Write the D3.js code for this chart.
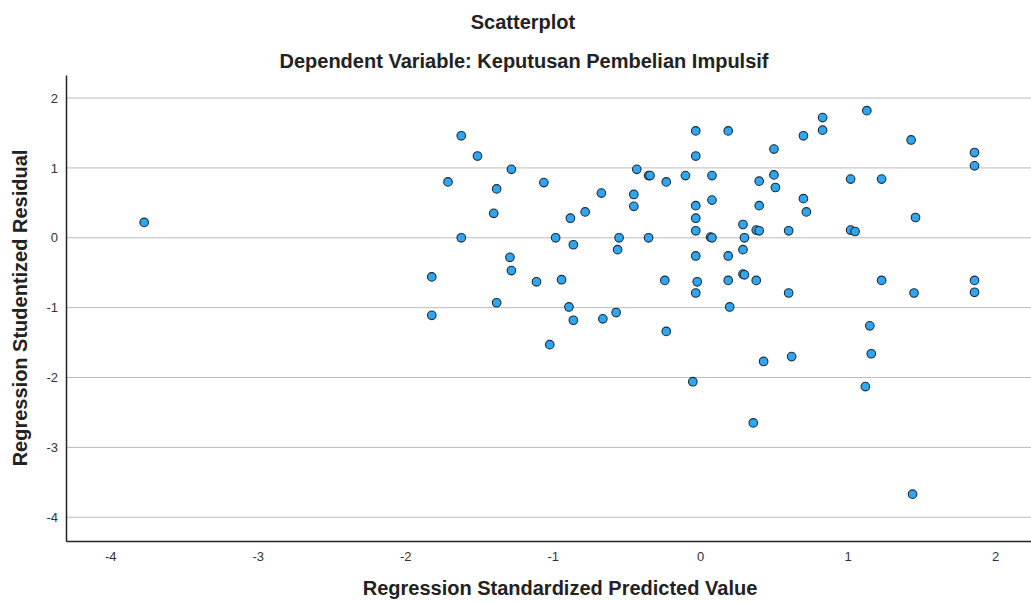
<!DOCTYPE html>
<html>
<head>
<meta charset="utf-8">
<script src="https://cdn.jsdelivr.net/npm/d3@7"></script>
<style>
  body { margin: 0; background: #fff; }
  text { font-family: "Liberation Sans", Arial, sans-serif; }
</style>
</head>
<body>
<script>
var w = 1031;
var h = 603;

// Regression Standardized Predicted Value
var predicted = [
    -3.77, -1.62, -1.51, -1.28, -1.71, -1.38, -1.06, -1.40, -0.88, -1.62,
    -0.98, -0.86, -1.29, -1.28, -1.82, -1.11, -0.94, -1.38, -0.89, -1.82,
    -0.86, -1.02, -0.03, 0.19, -0.03, -0.43, -0.35, -0.34, -0.23, -0.10,
    0.08, 0.40, 0.50, 0.50, -0.67, -0.45, -0.45, -0.78, -0.03, 0.08,
    0.40, -0.03, -0.03, 0.29, 0.38, 0.40, -0.55, -0.35, 0.07, 0.08,
    0.30, -0.56, -0.03, 0.19, 0.29, 0.29, 0.30, -0.24, -0.02, 0.19,
    0.38, -0.03, 0.20, -0.66, -0.57, -0.23, 0.43, -0.05, 0.36, 1.13,
    0.83, 0.83, 0.70, 1.43, 1.86, 1.86, 0.51, 1.02, 1.23, 0.70,
    0.72, 1.46, 0.60, 1.02, 1.05, 1.23, 0.60, 1.45, 1.86, 1.86,
    1.15, 1.16, 0.62, 1.12, 1.44
];

// Regression Studentized Residual
var residual = [
    0.22, 1.46, 1.17, 0.98, 0.80, 0.70, 0.79, 0.35, 0.28, 0.00,
    0.00, -0.10, -0.28, -0.47, -0.56, -0.63, -0.60, -0.93, -0.99, -1.11,
    -1.18, -1.53, 1.53, 1.53, 1.17, 0.98, 0.89, 0.89, 0.80, 0.89,
    0.89, 0.81, 0.90, 1.27, 0.64, 0.62, 0.45, 0.37, 0.46, 0.54,
    0.46, 0.28, 0.10, 0.19, 0.11, 0.10, 0.00, 0.00, 0.01, 0.00,
    0.00, -0.17, -0.26, -0.26, -0.17, -0.52, -0.53, -0.61, -0.63, -0.61,
    -0.61, -0.79, -0.99, -1.16, -1.07, -1.34, -1.77, -2.06, -2.65, 1.82,
    1.72, 1.54, 1.46, 1.40, 1.22, 1.03, 0.72, 0.84, 0.84, 0.56,
    0.37, 0.29, 0.10, 0.11, 0.09, -0.61, -0.79, -0.79, -0.61, -0.78,
    -1.26, -1.66, -1.70, -2.13, -3.67
];

var xTicks = [-4, -3, -2, -1, 0, 1, 2];
var yTicks = [-4, -3, -2, -1, 0, 1, 2];

var plotLeft = 66, plotRight = 1031, plotTop = 75, plotBottom = 541;

var svg = d3.select("body").append("svg").attr("width", w).attr("height", h);

var xScale = d3.scaleLinear()
    .domain([-4.3, 2.243])
    .range([plotLeft, plotRight]);

var yScale = d3.scaleLinear()
    .domain([-4.34, 2.33])
    .range([plotBottom, plotTop]);

// horizontal gridlines
svg.selectAll("line.grid")
    .data(yTicks).enter()
    .append("line")
    .attr("class", "grid")
    .attr("x1", plotLeft)
    .attr("x2", plotRight)
    .attr("y1", d => yScale(d))
    .attr("y2", d => yScale(d))
    .attr("stroke", "#bcbcbc")
    .attr("stroke-width", 1);

var xAxis = d3.axisBottom(xScale)
    .tickValues(xTicks)
    .tickSize(0)
    .tickPadding(11)
    .tickFormat(d => String(d));

var yAxis = d3.axisLeft(yScale)
    .tickValues(yTicks)
    .tickSize(0)
    .tickPadding(8)
    .tickFormat(d => String(d));

var gx = svg.append("g")
    .attr("transform", "translate(0," + plotBottom + ")")
    .call(xAxis);

var gy = svg.append("g")
    .attr("transform", "translate(" + plotLeft + ",0)")
    .call(yAxis);

[gx, gy].forEach(g => {
    g.select(".domain").attr("stroke", "#222").attr("stroke-width", 1.5);
    g.selectAll("text")
        .attr("font-family", "Liberation Sans, Arial, sans-serif")
        .attr("font-size", "13px")
        .attr("fill", "#333");
});

// points
svg.selectAll("circle")
    .data(predicted).enter()
    .append("circle")
    .attr("cx", d => xScale(d))
    .attr("cy", (d, i) => yScale(residual[i]))
    .attr("r", 4.3)
    .attr("fill", "#2ea6f2")
    .attr("stroke", "#1b2a36")
    .attr("stroke-width", 1.1);

// titles
svg.append("text")
    .text("Scatterplot")
    .attr("x", 523)
    .attr("y", 29)
    .attr("text-anchor", "middle")
    .attr("font-size", "20px")
    .attr("font-weight", "bold")
    .attr("fill", "#222");

svg.append("text")
    .text("Dependent Variable: Keputusan Pembelian Impulsif")
    .attr("x", 524)
    .attr("y", 68)
    .attr("text-anchor", "middle")
    .attr("font-size", "20px")
    .attr("font-weight", "bold")
    .attr("fill", "#222");

svg.append("text")
    .text("Regression Standardized Predicted Value")
    .attr("x", 560)
    .attr("y", 595)
    .attr("text-anchor", "middle")
    .attr("font-size", "20px")
    .attr("font-weight", "bold")
    .attr("fill", "#222");

svg.append("text")
    .text("Regression Studentized Residual")
    .attr("transform", "translate(27,308) rotate(-90)")
    .attr("text-anchor", "middle")
    .attr("font-size", "20px")
    .attr("font-weight", "bold")
    .attr("fill", "#222");
</script>
</body>
</html>
